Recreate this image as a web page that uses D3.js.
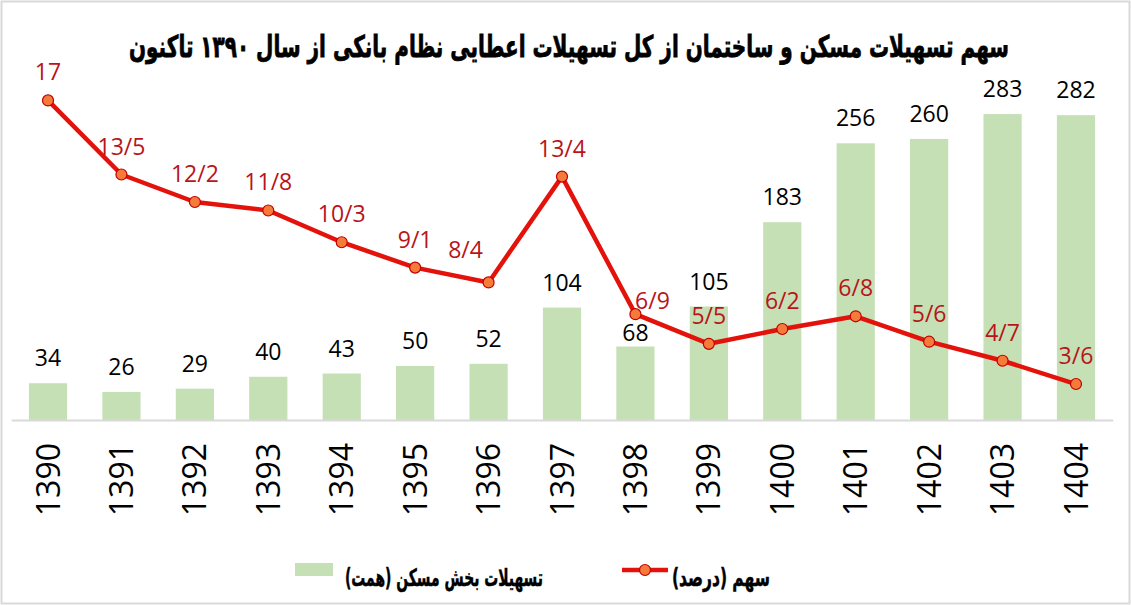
<!DOCTYPE html>
<html>
<head>
<meta charset="utf-8">
<script src="https://cdn.jsdelivr.net/npm/d3@7"></script>
<style>
  body { margin: 0; background: #fff; }
  svg { display: block; }
</style>
</head>
<body>
<div id="chart"></div>
<script>
// Chart data
var years = ["1390","1391","1392","1393","1394","1395","1396","1397","1398","1399","1400","1401","1402","1403","1404"];
var loans = [34, 26, 29, 40, 43, 50, 52, 104, 68, 105, 183, 256, 260, 283, 282];
var share = [17, 13.5, 12.2, 11.8, 10.3, 9.1, 8.4, 13.4, 6.9, 5.5, 6.2, 6.8, 5.6, 4.7, 3.6];

var titleText = "سهم تسهیلات مسکن و ساختمان از کل تسهیلات اعطایی نظام بانکی از سال ۱۳۹۰ تاکنون";
var legendBars = "تسهیلات بخش مسکن (همت)";
var legendLine = "سهم (درصد)";

var width = 1131, height = 605;
var base = 420, plotTop = 78;
var numFont = "'Open Sans', sans-serif";
var faFont = "'DejaVu Sans', sans-serif";

var svg = d3.select("#chart").append("svg")
    .attr("width", width)
    .attr("height", height);

// frame
svg.append("rect")
    .attr("x", 1.5).attr("y", 1.5)
    .attr("width", width - 3).attr("height", height - 3)
    .attr("fill", "#fff")
    .attr("stroke", "#d9d9d9")
    .attr("stroke-width", 2);

var x = d3.scaleBand()
    .domain(years)
    .range([11.3, 1112.7])
    .paddingInner(0.48)
    .paddingOuter(0.24);

var yBar = d3.scaleLinear().domain([0, 316.4]).range([base, plotTop]);
var yLine = d3.scaleLinear().domain([1.9, 18.06]).range([base, plotTop]);

function cx(d) { return x(d) + x.bandwidth() / 2; }

// bars
svg.append("g")
    .selectAll("rect")
    .data(loans)
    .enter().append("rect")
    .attr("x", function(d, i) { return x(years[i]); })
    .attr("y", function(d) { return yBar(d); })
    .attr("width", x.bandwidth())
    .attr("height", function(d) { return base - yBar(d); })
    .attr("fill", "#c5e0b4");

// bar value labels
svg.append("g")
    .selectAll("text")
    .data(loans)
    .enter().append("text")
    .attr("x", function(d, i) { return cx(years[i]); })
    .attr("y", function(d, i) { return yBar(d) - (years[i] == "1398" ? 5 : 17); })
    .attr("text-anchor", "middle")
    .attr("font-family", numFont)
    .attr("font-size", "23px")
    .attr("fill", "#000")
    .text(function(d) { return d; });

// x axis
var axis = svg.append("g")
    .attr("transform", "translate(0," + base + ")")
    .call(d3.axisBottom(x).tickSize(0));
axis.select(".domain")
    .attr("stroke", "#d9d9d9")
    .attr("stroke-width", 2);
axis.selectAll("text")
    .attr("transform", "rotate(-90)")
    .attr("x", -23)
    .attr("y", 0)
    .attr("dy", "0.36em")
    .attr("text-anchor", "end")
    .attr("font-family", numFont)
    .attr("font-size", "32px")
    .attr("fill", "#000");

// share line
var line = d3.line()
    .x(function(d, i) { return cx(years[i]); })
    .y(function(d) { return yLine(d); });

svg.append("path")
    .datum(share)
    .attr("d", line)
    .attr("fill", "none")
    .attr("stroke", "#e3120b")
    .attr("stroke-width", 4.5)
    .attr("stroke-linejoin", "round");

svg.append("g")
    .selectAll("circle")
    .data(share)
    .enter().append("circle")
    .attr("cx", function(d, i) { return cx(years[i]); })
    .attr("cy", function(d) { return yLine(d); })
    .attr("r", 5.5)
    .attr("fill", "#f47b3a")
    .attr("stroke", "#c00000")
    .attr("stroke-width", 1.2);

// line labels, a couple are nudged like in the original
var nudge = {"1396": [-23, -24], "1398": [17, -5]};
svg.append("g")
    .selectAll("text")
    .data(share)
    .enter().append("text")
    .attr("x", function(d, i) { var n = nudge[years[i]]; return cx(years[i]) + (n ? n[0] : 0); })
    .attr("y", function(d, i) { var n = nudge[years[i]]; return yLine(d) + (n ? n[1] : -20); })
    .attr("text-anchor", "middle")
    .attr("font-family", numFont)
    .attr("font-size", "23px")
    .attr("fill", "#b8141a")
    .text(function(d) { return String(d).replace(".", "/"); });

// title, squeezed to the width of the original
svg.append("text")
    .attr("x", 569)
    .attr("y", 57)
    .attr("text-anchor", "middle")
    .attr("direction", "rtl")
    .attr("font-family", faFont)
    .attr("font-weight", "bold")
    .attr("font-size", "30px")
    .attr("textLength", 880)
    .attr("lengthAdjust", "spacingAndGlyphs")
    .attr("fill", "#000")
    .attr("stroke", "#000")
    .attr("stroke-width", 0.8)
    .text(titleText);

// legend
svg.append("rect")
    .attr("x", 295).attr("y", 563)
    .attr("width", 38).attr("height", 13)
    .attr("fill", "#c5e0b4");
svg.append("text")
    .attr("x", 444).attr("y", 586)
    .attr("text-anchor", "middle")
    .attr("direction", "rtl")
    .attr("font-family", faFont)
    .attr("font-weight", "bold")
    .attr("font-size", "24px")
    .attr("textLength", 198)
    .attr("lengthAdjust", "spacingAndGlyphs")
    .attr("stroke", "#000")
    .attr("stroke-width", 0.5)
    .text(legendBars);

svg.append("line")
    .attr("x1", 622).attr("x2", 668)
    .attr("y1", 570).attr("y2", 570)
    .attr("stroke", "#e3120b")
    .attr("stroke-width", 4.5);
svg.append("circle")
    .attr("cx", 645).attr("cy", 570).attr("r", 5.5)
    .attr("fill", "#f47b3a")
    .attr("stroke", "#c00000")
    .attr("stroke-width", 1.2);
svg.append("text")
    .attr("x", 721).attr("y", 586)
    .attr("text-anchor", "middle")
    .attr("direction", "rtl")
    .attr("font-family", faFont)
    .attr("font-weight", "bold")
    .attr("font-size", "24px")
    .attr("textLength", 98)
    .attr("lengthAdjust", "spacingAndGlyphs")
    .attr("stroke", "#000")
    .attr("stroke-width", 0.5)
    .text(legendLine);
</script>
</body>
</html>
